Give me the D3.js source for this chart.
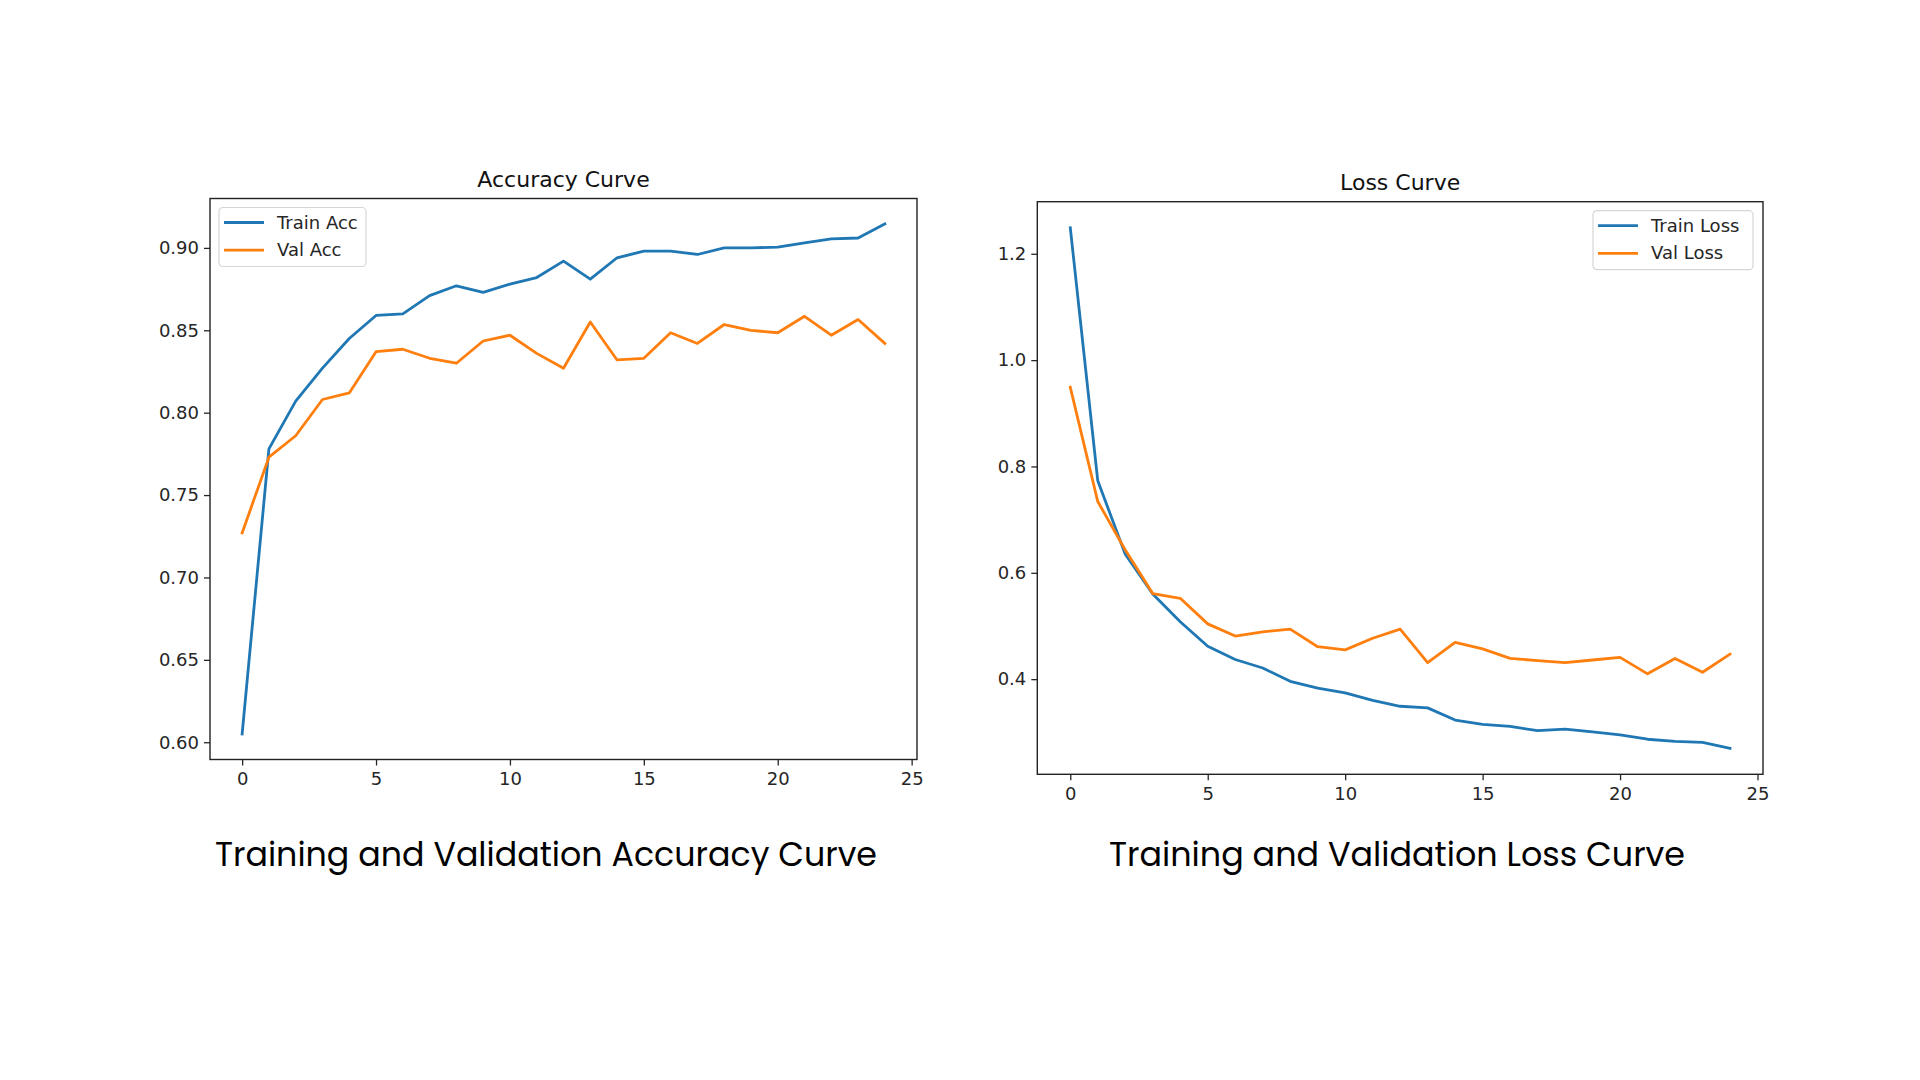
<!DOCTYPE html>
<html lang="en">
<head>
    <meta charset="UTF-8">
    <title>Training and Validation Curves</title>
    <script src="https://d3js.org/d3.v7.min.js"></script>
    <style>
        body, html {
            margin: 0;
            padding: 0;
            width: 100%;
            height: 100%;
            overflow: hidden;
            background: #fff;
        }
        .tick text {
            font-family: "DejaVu Sans", sans-serif;
            font-size: 18px;
            fill: #262626;
        }
        .tick line { stroke: #262626; stroke-width: 1.3; }
        .ptitle {
            font-family: "DejaVu Sans", sans-serif;
            font-size: 22px;
            fill: #111;
        }
        .legend text {
            font-family: "DejaVu Sans", sans-serif;
            font-size: 18px;
            fill: #262626;
        }
        .caption {
            font-family: "Poppins", "Open Sans", sans-serif;
            font-size: 33px;
            fill: #000;
        }
    </style>
</head>
<body>
    <div id="chart"></div>
    <script>
        // epochs 0..24
        var epochs = d3.range(0, 25);

        var trainAcc = [0.605, 0.778, 0.807, 0.827, 0.845, 0.859, 0.860, 0.871, 0.877, 0.873,
                        0.878, 0.882, 0.892, 0.881, 0.894, 0.898, 0.898, 0.896, 0.900, 0.900,
                        0.9005, 0.903, 0.9055, 0.906, 0.9145];
        var valAcc = [0.727, 0.773, 0.786, 0.808, 0.812, 0.837, 0.8385, 0.833, 0.830, 0.8435,
                      0.847, 0.836, 0.827, 0.855, 0.832, 0.833, 0.8485, 0.842, 0.8535, 0.850,
                      0.8485, 0.8585, 0.847, 0.8565, 0.842];

        var trainLoss = [1.249, 0.773, 0.635, 0.560, 0.508, 0.462, 0.437, 0.421, 0.396, 0.383,
                         0.374, 0.360, 0.349, 0.346, 0.323, 0.315, 0.311, 0.303, 0.306, 0.301,
                         0.295, 0.287, 0.283, 0.281, 0.270];
        var valLoss = [0.949, 0.734, 0.643, 0.561, 0.552, 0.504, 0.481, 0.489, 0.494, 0.461,
                       0.455, 0.477, 0.494, 0.431, 0.469, 0.457, 0.439, 0.435, 0.431, 0.436,
                       0.441, 0.410, 0.439, 0.413, 0.447];

        var xTicks = [0, 5, 10, 15, 20, 25];
        var accTicks = [0.60, 0.65, 0.70, 0.75, 0.80, 0.85, 0.90];
        var lossTicks = [0.4, 0.6, 0.8, 1.0, 1.2];

        var blue = "#1f77b4", orange = "#ff7f0e";

        var svg = d3.select("#chart").append("svg")
            .attr("width", 1920)
            .attr("height", 1080);

        // matplotlib style 5% margins
        function padded(ext) {
            var m = (ext[1] - ext[0]) * 0.05;
            return [ext[0] - m, ext[1] + m];
        }

        function drawPanel(opt) {
            var g = svg.append("g")
                .attr("transform", "translate(" + opt.x + "," + opt.y + ")");

            var x = d3.scaleLinear()
                .domain(padded([0, 24]))
                .range([0, opt.w]);

            var allY = opt.series[0].values.concat(opt.series[1].values);
            var y = d3.scaleLinear()
                .domain(padded(d3.extent(allY)))
                .range([opt.h, 0]);

            // x axis
            var xa = g.append("g")
                .attr("transform", "translate(0," + opt.h + ")")
                .call(d3.axisBottom(x).tickValues(xTicks).tickSize(6).tickPadding(7).tickFormat(d3.format("d")));
            xa.select(".domain").remove();

            // y axis
            var ya = g.append("g")
                .call(d3.axisLeft(y).tickValues(opt.yTicks).tickSize(6).tickPadding(5).tickFormat(d3.format(opt.yFmt)));
            ya.select(".domain").remove();

            // lines
            var line = d3.line()
                .x(function(d, i) { return x(epochs[i]); })
                .y(function(d) { return y(d); });

            opt.series.forEach(function(s) {
                g.append("path")
                    .datum(s.values)
                    .attr("fill", "none")
                    .attr("stroke", s.color)
                    .attr("stroke-width", 2.8)
                    .attr("stroke-linejoin", "round")
                    .attr("stroke-linecap", "square")
                    .attr("d", line);
            });

            // frame
            g.append("rect")
                .attr("width", opt.w)
                .attr("height", opt.h)
                .attr("fill", "none")
                .attr("stroke", "#222")
                .attr("stroke-width", 1.4);

            // title
            g.append("text")
                .attr("class", "ptitle")
                .attr("x", opt.w / 2)
                .attr("y", -12)
                .attr("text-anchor", "middle")
                .text(opt.title);

            // legend
            var lg = g.append("g")
                .attr("class", "legend")
                .attr("transform", "translate(" + opt.legX + "," + opt.legY + ")");
            lg.append("rect")
                .attr("width", opt.legW)
                .attr("height", 59)
                .attr("rx", 4)
                .attr("fill", "#fff")
                .attr("fill-opacity", 0.8)
                .attr("stroke", "#d6d6d6")
                .attr("stroke-width", 1.2);
            opt.series.forEach(function(s, i) {
                var ly = 15 + i * 27.7;
                lg.append("line")
                    .attr("x1", 5).attr("x2", 45)
                    .attr("y1", ly).attr("y2", ly)
                    .attr("stroke", s.color)
                    .attr("stroke-width", 2.8);
                lg.append("text")
                    .attr("x", 58)
                    .attr("y", ly + 6)
                    .text(s.name);
            });

            // caption below
            var cap = svg.append("text")
                .attr("class", "caption")
                .attr("x", opt.capX)
                .attr("y", 866)
                .attr("text-anchor", "middle")
                .text(opt.caption);
            var len = cap.node().getComputedTextLength();
            if (Math.abs(len - opt.capW) > 4) {
                cap.attr("textLength", opt.capW).attr("lengthAdjust", "spacingAndGlyphs");
            }
        }

        drawPanel({
            x: 210, y: 198.5, w: 707, h: 561,
            title: "Accuracy Curve",
            yTicks: accTicks, yFmt: ".2f",
            series: [
                {name: "Train Acc", values: trainAcc, color: blue},
                {name: "Val Acc", values: valAcc, color: orange}
            ],
            legX: 9, legY: 9, legW: 147,
            caption: "Training and Validation Accuracy Curve",
            capX: 546, capW: 662
        });

        drawPanel({
            x: 1037.3, y: 201.7, w: 725.7, h: 572.6,
            title: "Loss Curve",
            yTicks: lossTicks, yFmt: ".1f",
            series: [
                {name: "Train Loss", values: trainLoss, color: blue},
                {name: "Val Loss", values: valLoss, color: orange}
            ],
            legX: 725.7 - 170, legY: 9, legW: 160,
            caption: "Training and Validation Loss Curve",
            capX: 1397, capW: 576
        });
    </script>
</body>
</html>
